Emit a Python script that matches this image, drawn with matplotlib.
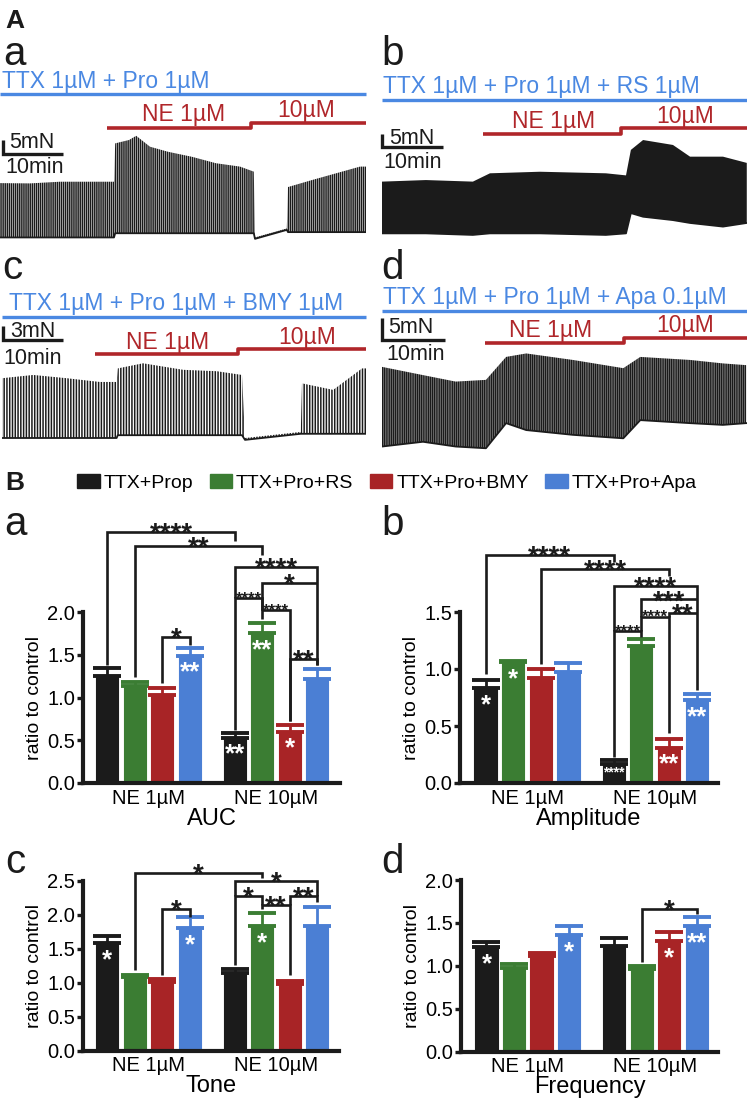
import matplotlib
matplotlib.use('Agg')
import matplotlib.pyplot as plt
from matplotlib import transforms
from matplotlib.patches import Patch

plt.rcParams['font.family'] = ['Liberation Sans', 'DejaVu Sans']
plt.rcParams['hatch.linewidth'] = 1.1

# ------------------------------------------------------------------ DATA
# Panel A: contraction traces (envelopes read from the recordings; time in min, force in mN)
a_time = [0, 5, 10, 15, 19.0, 19.2, 21.5, 22.7, 25, 28, 32, 36, 40, 42.3, 42.5, 47.8, 48.0, 52, 56, 60, 61]
a_upper = [19.6, 19.5, 20.1, 20.1, 20.1, 33.8, 35.0, 36.5, 32.6, 30.8, 29.0, 26.7, 25.5, 23.7, 0.2, 3.4, 18.2, 20.7, 23.1, 25.5, 25.5]
a_lower = [0.2, 0.2, 0.2, 0.2, 0.2, 1.7, 1.7, 1.7, 1.7, 1.7, 1.7, 1.7, 1.7, 1.7, -0.3, 2.9, 2.1, 2.1, 2.1, 2.1, 2.1]

b_time = [0, 7.2, 14.9, 17.7, 25.9, 36.7, 40.0, 40.8, 42.8, 47.7, 50.5, 55.9, 59.8]
b_upper = [21.3, 21.9, 21.3, 24.5, 25.1, 24.5, 23.7, 33.5, 37.3, 35.4, 30.9, 30.9, 28.5]
b_lower = [1.4, 1.4, 0.8, 1.4, 1.4, 0.8, 1.4, 9.2, 7.8, 6.5, 5.4, 4.0, 5.4]

c_time = [0, 5.2, 10.8, 16.3, 19.1, 19.3, 23.5, 30.2, 35.8, 40.0, 40.5, 49.8, 50.0, 55.2, 60.0, 60.7]
c_upper = [12.8, 13.5, 12.8, 12.0, 12.0, 14.9, 16.0, 14.6, 14.3, 13.5, 0.0, 1.3, 11.7, 10.3, 14.9, 14.9]
c_lower = [0.0, 0.0, 0.0, 0.0, 0.0, 0.6, 0.6, 0.6, 0.6, 0.6, -0.4, 0.9, 0.9, 0.9, 0.9, 0.9]

d_time = [0, 6.5, 11.7, 16.5, 19.7, 22.9, 30.3, 38.3, 41.0, 48.9, 54.1, 57.8]
d_upper = [19.2, 17.3, 15.8, 16.2, 21.5, 22.3, 20.8, 18.9, 21.5, 20.8, 20.0, 19.6]
d_lower = [0.8, 1.9, 0.8, 0.4, 6.2, 4.6, 3.5, 2.7, 6.9, 6.2, 5.8, 6.2]

trace_end = [61.0, 59.8, 60.7, 57.9]
ne1_start = [17.8, 16.6, 15.5, 16.3]
ne10_start = [41.8, 39.2, 39.3, 38.4]
headers = ['TTX 1µM + Pro 1µM', 'TTX 1µM + Pro 1µM + RS 1µM',
           'TTX 1µM + Pro 1µM + BMY 1µM', 'TTX 1µM + Pro 1µM + Apa 0.1µM']
force_scale = [5, 5, 3, 5]   # mN
time_scale = 10              # min

# Panel B: ratio to control (mean, upper SEM) per series x [NE 1µM, NE 10µM]
groups = ['NE 1µM', 'NE 10µM']
series = ['TTX+Prop', 'TTX+Pro+RS', 'TTX+Pro+BMY', 'TTX+Pro+Apa']
auc_mean = [[1.25, 0.53], [1.14, 1.75], [1.03, 0.60], [1.49, 1.22]]
auc_err = [[0.10, 0.05], [0.04, 0.12], [0.08, 0.08], [0.09, 0.11]]
amp_mean = [[0.83, 0.17], [1.06, 1.20], [0.92, 0.31], [0.97, 0.73]]
amp_err = [[0.07, 0.03], [0.01, 0.06], [0.08, 0.08], [0.08, 0.05]]
tone_mean = [[1.58, 1.15], [1.09, 1.83], [1.01, 0.98], [1.80, 1.84]]
tone_err = [[0.11, 0.05], [0.02, 0.19], [0.04, 0.05], [0.16, 0.27]]
freq_mean = [[1.22, 1.23], [0.98, 0.96], [1.12, 1.29], [1.36, 1.46]]
freq_err = [[0.06, 0.09], [0.04, 0.04], [0.03, 0.11], [0.11, 0.11]]

# significance brackets: (series1, group1, series2, group2, label, small?)
auc_sig = [(0, 0, 0, 1, '****', 0), (1, 0, 1, 1, '**', 0), (0, 1, 3, 1, '****', 0),
           (1, 1, 3, 1, '*', 0), (0, 1, 1, 1, '****', 1), (1, 1, 2, 1, '****', 1),
           (2, 1, 3, 1, '**', 0), (2, 0, 3, 0, '*', 0)]
amp_sig = [(0, 0, 0, 1, '****', 0), (2, 0, 2, 1, '****', 0), (0, 1, 3, 1, '****', 0),
           (1, 1, 3, 1, '***', 0), (2, 1, 3, 1, '**', 0), (1, 1, 2, 1, '****', 1),
           (0, 1, 1, 1, '****', 1)]
tone_sig = [(1, 0, 1, 1, '*', 0), (0, 1, 3, 1, '*', 0), (0, 1, 1, 1, '*', 0),
            (1, 1, 2, 1, '**', 0), (2, 1, 3, 1, '**', 0), (2, 0, 3, 0, '*', 0)]
freq_sig = [(1, 1, 3, 1, '*', 0)]
# versus control (white stars inside bars): (series, group, label)
auc_in = [(3, 0, '**'), (0, 1, '**'), (1, 1, '**'), (2, 1, '*')]
amp_in = [(0, 0, '*'), (1, 0, '*'), (0, 1, '****'), (2, 1, '**'), (3, 1, '**')]
tone_in = [(0, 0, '*'), (3, 0, '*'), (1, 1, '*')]
freq_in = [(0, 0, '*'), (3, 0, '*'), (2, 1, '*'), (3, 1, '**')]

# ------------------------------------------------------------------ STYLE / LAYOUT
W, H = 747, 1101
K = '#1b1b1b'
BAR_COLORS = ['#1b1b1b', '#3b7d33', '#a82426', '#4b7fd4']
BLUE = '#4a88e2'
RED = '#b0262a'

fig = plt.figure(figsize=(W / 100, H / 100), dpi=100)
ov = fig.add_axes([0, 0, 1, 1])
ov.set_xlim(0, W)
ov.set_ylim(H, 0)
ov.axis('off')


def ftxt(x, y, s, size, color=K, weight='normal', ha='left'):
    ov.text(x, y, s, fontsize=size, color=color, fontweight=weight, ha=ha, va='baseline')


# ---------------- panel A traces
trace_layout = [
    dict(l=0, r=366, t=128, b=246, ppm=6.0, f0=238, ppf=2.8, t0=0,
         hy=94, hty=88, htx=2, r1=127.5, r2=123, n1y=121, n2y=116.5, n1x=184, n2x=306,
         sx=0.5, sy=154, fx=9, fy=148, mx=5, my=173, lab='a', labx=3, laby=65),
    dict(l=382, r=747, t=128, b=246, ppm=6.1, f0=237, ppf=2.6, t0=382,
         hy=100, hty=93.5, htx=383, r1=134.3, r2=128.3, n1y=128.3, n2y=122.7, n1x=553.5, n2x=685.5,
         sx=0.0, sy=147, fx=389, fy=143.5, mx=383, my=168.5, lab='b', labx=381, laby=65),
    dict(l=2, r=366, t=322, b=446, ppm=6.0, f0=438, ppf=4.67, t0=2,
         hy=316.7, hty=310, htx=9, r1=354.3, r2=349.3, n1y=349, n2y=344, n1x=167.5, n2x=306.7,
         sx=0.17, sy=340, fx=10, fy=336.7, mx=3, my=363.5, lab='c', labx=2, laby=279),
    dict(l=382, r=747, t=316, b=456, ppm=6.3, f0=450, ppf=4.33, t0=382,
         hy=310.7, hty=304, htx=383, r1=343.3, r2=338, n1y=337.3, n2y=331.7, n1x=550.5, n2x=684.7,
         sx=0.0, sy=340, fx=388, fy=333.3, mx=386, my=360, lab='d', labx=381, laby=279),
]
traces = [(a_time, a_upper, a_lower), (b_time, b_upper, b_lower),
          (c_time, c_upper, c_lower), (d_time, d_upper, d_lower)]
hatches = ['||||||||', '||||||||||||', '||||||', '|||||||||']

ftxt(5, 28, 'A', 19, weight='bold')
for i, L in enumerate(trace_layout):
    ax = fig.add_axes([L['l'] / W, 1 - L['b'] / H, (L['r'] - L['l']) / W, (L['b'] - L['t']) / H])
    ax.set_xlim((L['l'] - L['t0']) / L['ppm'], (L['r'] - L['t0']) / L['ppm'])
    ax.set_ylim((L['f0'] - L['b']) / L['ppf'], (L['f0'] - L['t']) / L['ppf'])
    ax.axis('off')
    tt, up, lo = traces[i]
    ax.fill_between(tt, lo, up, facecolor='white', edgecolor=K, hatch=hatches[i], linewidth=0)
    ax.plot(tt, lo, color=K, lw=1.3)
    # scale bars (data units)
    sf = (L['f0'] - L['sy']) / L['ppf']
    ax.plot([L['sx'], L['sx'], L['sx'] + time_scale], [sf + force_scale[i], sf, sf],
            color=K, lw=2.4, clip_on=False, solid_joinstyle='miter', solid_capstyle='butt')
    # drug application bars: x in minutes, y in figure pixels
    tr = transforms.blended_transform_factory(ax.transData, ov.transData)
    ax.plot([tt[0], trace_end[i]], [L['hy'], L['hy']], color=BLUE, lw=2.4,
            transform=tr, clip_on=False, solid_capstyle='butt')
    ax.plot([ne1_start[i], ne10_start[i], ne10_start[i], trace_end[i]],
            [L['r1'], L['r1'], L['r2'], L['r2']], color=RED, lw=2.6,
            transform=tr, clip_on=False, solid_capstyle='butt')
    ftxt(L['htx'], L['hty'], headers[i], 16.5, color=BLUE)
    ftxt(L['n1x'], L['n1y'], 'NE 1µM', 16.5, color=RED, ha='center')
    ftxt(L['n2x'], L['n2y'], '10µM', 16.5, color=RED, ha='center')
    ftxt(L['fx'], L['fy'], '%dmN' % force_scale[i], 15.5)
    ftxt(L['mx'], L['my'], '10min', 15.5)
    ftxt(L['labx'], L['laby'], L['lab'], 29)

# ---------------- panel B bar charts
STEP = 0.2157
BW = 0.173


def bx(s, g):
    return g + (s - 1.5) * STEP


def bar_panel(rect, xlim, ylim, yticks, mean, err, sig, inside, xlabel, levels):
    ax = fig.add_axes(rect)
    for s in range(4):
        xs = [bx(s, g) for g in range(2)]
        ax.bar(xs, mean[s], width=BW, color=BAR_COLORS[s], edgecolor=BAR_COLORS[s], lw=0.8, zorder=2)
        ax.errorbar(xs, mean[s], yerr=[[0, 0], err[s]], fmt='none', ecolor=BAR_COLORS[s],
                    elinewidth=2.0, capsize=10, capthick=2.8, zorder=1)
    ax.set_xlim(*xlim)
    ax.set_ylim(*ylim)
    ax.set_yticks(yticks)
    ax.set_yticklabels(['%.1f' % v for v in yticks])
    ax.set_xticks([0, 1])
    ax.set_xticklabels(groups)
    for sp in ['top', 'right']:
        ax.spines[sp].set_visible(False)
    for sp in ['left', 'bottom']:
        ax.spines[sp].set_linewidth(3.0)
        ax.spines[sp].set_color(K)
    ax.tick_params(axis='y', length=4.5, width=2.4, labelsize=14.5, pad=1, color=K)
    ax.tick_params(axis='x', length=0, labelsize=14.5, pad=4)
    ax.set_ylabel('ratio to control', fontsize=14, labelpad=3)
    ax.set_xlabel(xlabel, fontsize=17, labelpad=0)
    # brackets
    for (s1, g1, s2, g2, lab, small), (y, ya, yb) in zip(sig, levels):
        x1, x2 = bx(s1, g1), bx(s2, g2)
        ax.plot([x1, x1, x2, x2], [ya, y, y, yb], color=K, lw=1.9, clip_on=False,
                solid_joinstyle='miter', solid_capstyle='butt')
        fs = 12 if small else 20
        ax.annotate(lab, ((x1 + x2) / 2, y), xytext=(0, -0.40 * fs + 1.0), textcoords='offset points',
                    ha='center', va='baseline', fontsize=fs, fontweight='bold', color=K,
                    annotation_clip=False)
    for s, g, lab in inside:
        fs = 10 if len(lab) > 2 else 18.5
        dc = 4.0 if len(lab) > 2 else 7.0
        ax.annotate(lab, (bx(s, g), mean[s][g]), xytext=(0, -dc - 0.56 * fs), textcoords='offset points',
                    ha='center', va='baseline', fontsize=fs, fontweight='bold', color='white',
                    annotation_clip=False)
    return ax


auc_levels = [(2.94, 1.38, 2.83), (2.77, 1.24, 2.67), (2.53, 2.16, 1.38), (2.34, 2.02, 2.34),
              (2.16, 0.62, 2.02), (2.02, 1.92, 0.73), (1.45, 0.73, 1.38), (1.71, 1.17, 1.61)]
amp_levels = [(2.00, 0.96, 1.94), (1.88, 1.04, 1.82), (1.73, 1.33, 0.82), (1.61, 1.46, 1.61),
              (1.49, 1.46, 1.49), (1.46, 1.33, 0.44), (1.33, 0.23, 1.28)]
tone_levels = [(2.62, 1.19, 2.54), (2.50, 2.27, 2.27), (2.27, 1.26, 2.15), (2.15, 2.08, 1.11),
               (2.27, 2.15, 2.19), (2.09, 1.11, 1.97)]
freq_levels = [(1.66, 1.05, 1.60)]

bar_panel([83 / W, 1 - 783 / H, 257 / W, 171 / H], (-0.514, 1.502), (0, 2.0), [0, 0.5, 1.0, 1.5, 2.0],
          auc_mean, auc_err, auc_sig, auc_in, 'AUC', auc_levels)
bar_panel([460 / W, 1 - 783 / H, 258 / W, 171 / H], (-0.523, 1.49), (0, 1.5), [0, 0.5, 1.0, 1.5],
          amp_mean, amp_err, amp_sig, amp_in, 'Amplitude', amp_levels)
bar_panel([83 / W, 1 - 1050.7 / H, 256 / W, 170 / H], (-0.514, 1.494), (0, 2.5), [0, 0.5, 1.0, 1.5, 2.0, 2.5],
          tone_mean, tone_err, tone_sig, tone_in, 'Tone', tone_levels)
bar_panel([461 / W, 1 - 1051.7 / H, 257 / W, 171.7 / H], (-0.523, 1.49), (0, 2.0), [0, 0.5, 1.0, 1.5, 2.0],
          freq_mean, freq_err, freq_sig, freq_in, 'Frequency', freq_levels)

ftxt(5, 490, 'B', 19, weight='bold')
ftxt(4, 535, 'a', 29)
ftxt(381, 535, 'b', 29)
ftxt(5, 873, 'c', 29)
ftxt(381, 873, 'd', 29)

handles = [Patch(facecolor=c, edgecolor=c) for c in BAR_COLORS]
fig.legend(handles, series, loc='center', bbox_to_anchor=(387 / W, 1 - 483 / H), ncol=4,
           frameon=False, fontsize=14, handlelength=1.15, handleheight=0.75, handletextpad=0.2,
           columnspacing=0.85, borderpad=0)

fig.savefig('out.png', dpi=100)
